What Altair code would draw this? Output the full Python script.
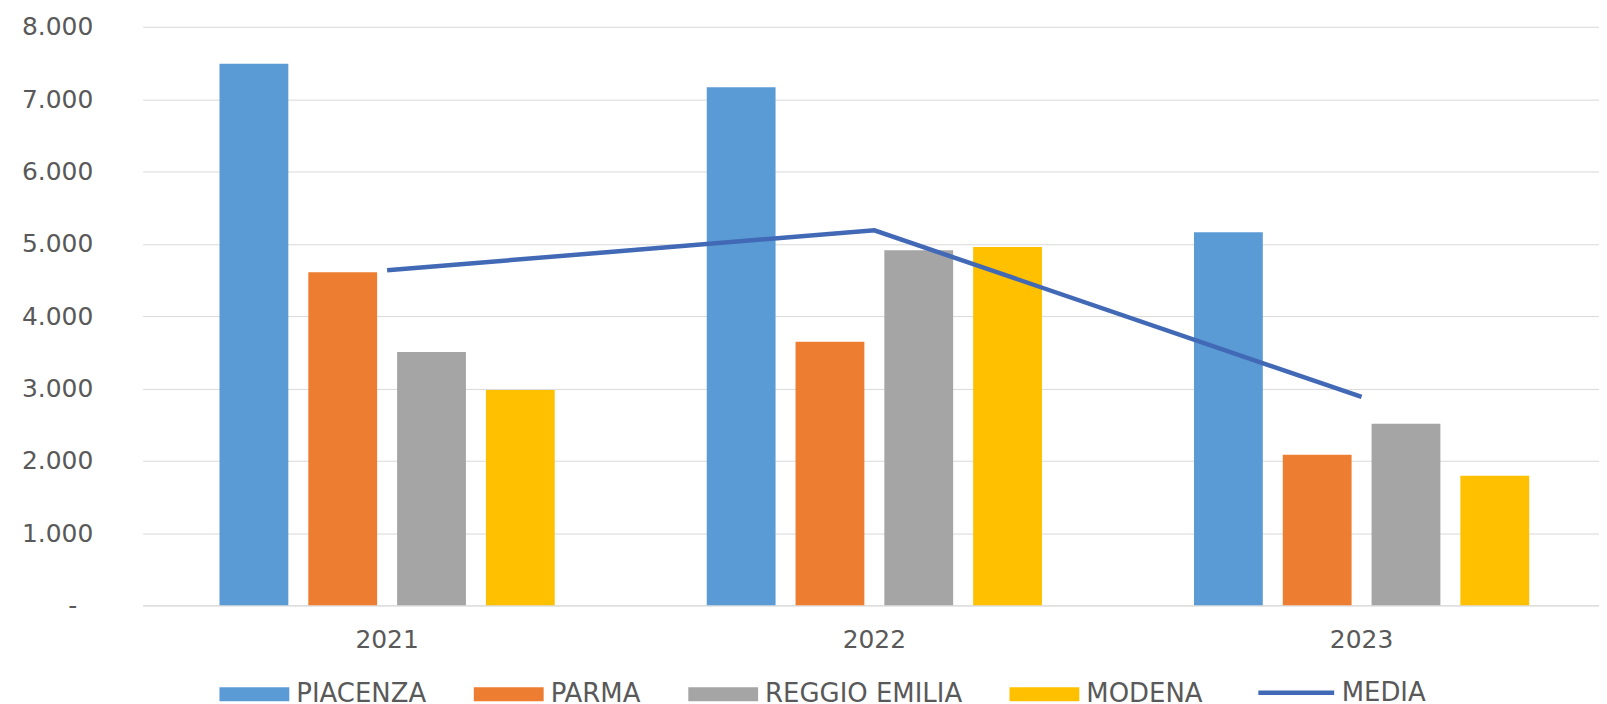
import altair as alt
import pandas as pd

anni = ["2021", "2022", "2023"]
serie = ["PIACENZA", "PARMA", "REGGIO EMILIA", "MODENA"]
colori = ["#5B9BD5", "#ED7D31", "#A5A5A5", "#FFC000"]
piacenza = [7490, 7163, 5159]
parma = [4607, 3646, 2083]
reggio_emilia = [3503, 4910, 2510]
modena = [2979, 4956, 1793]
media = [4634, 5186, 2883]
tick_y = [0, 1000, 2000, 3000, 4000, 5000, 6000, 7000, 8000]

valori = [piacenza, parma, reggio_emilia, modena]
rows = []
for nome, vals in zip(serie, valori):
    for a, v in zip(anni, vals):
        rows.append({"anno": a, "serie": nome, "valore": v})
df_bar = pd.DataFrame(rows)
df_line = pd.DataFrame({"anno": anni, "valore": media, "linea": ["MEDIA"] * 3})

FONT = "DejaVu Sans"
TXT = "#595959"
GRID = "#D9D9D9"

x_enc = alt.X(
    "anno:N",
    sort=anni,
    title=None,
    scale=alt.Scale(paddingInner=0.312, paddingOuter=0.1505, align=0.524),
    axis=alt.Axis(
        labelAngle=0, ticks=False, tickSize=0, domain=True, domainColor=GRID,
        domainWidth=1, labelFont=FONT, labelFontSize=25, labelColor=TXT,
        labelPadding=22, grid=False,
    ),
)
y_enc = alt.Y(
    "valore:Q",
    title=None,
    scale=alt.Scale(domain=[0, 8000], nice=False),
    axis=alt.Axis(
        values=tick_y, ticks=False, domain=False, grid=True, gridColor=GRID,
        gridWidth=1, labelFont=FONT, labelFontSize=25, labelColor=TXT,
        labelPadding={"condition": {"test": "datum.value == 0", "value": 66}, "value": 50},
        labelExpr="datum.value == 0 ? '-' : replace(format(datum.value, ','), ',', '.')",
    ),
)

bars = alt.Chart(df_bar).mark_bar().encode(
    x=x_enc,
    y=y_enc,
    xOffset=alt.XOffset("serie:N", sort=serie,
                        scale=alt.Scale(paddingInner=0.225, paddingOuter=0)),
    color=alt.Color(
        "serie:N",
        sort=serie,
        scale=alt.Scale(domain=serie, range=colori),
        legend=alt.Legend(
            title=None, orient="none", legendX=77, legendY=634,
            direction="horizontal",
            symbolType="M-1,-0.2L1,-0.2L1,0.2L-1,0.2Z", symbolSize=4900,
            symbolStrokeWidth=0, labelFont=FONT, labelFontSize=26,
            labelColor=TXT, labelOffset=7, columnPadding=47, labelLimit=400,
        ),
    ),
)

line = alt.Chart(df_line).mark_line(strokeWidth=4.5).encode(
    x=alt.X("anno:N", sort=anni),
    y=alt.Y("valore:Q"),
    stroke=alt.Stroke(
        "linea:N",
        scale=alt.Scale(domain=["MEDIA"], range=["#4169B5"]),
        legend=alt.Legend(
            title=None, orient="none", legendX=1116, legendY=627,
            symbolType="stroke", symbolSize=5776, symbolStrokeWidth=4.5,
            labelFont=FONT, labelFontSize=26, labelColor=TXT, labelOffset=5,
            labelLimit=400,
        ),
    ),
)

chart = alt.layer(bars, line).resolve_scale(color="independent").properties(
    width=1460,
    height=580,
    autosize=alt.AutoSizeParams(type="none"),
    padding={"left": 135, "top": 18, "right": 0, "bottom": 98},
).configure(background="white", view=alt.ViewConfig(stroke=None))

chart.save("out.html", embed_options={"renderer": "svg", "actions": False})
